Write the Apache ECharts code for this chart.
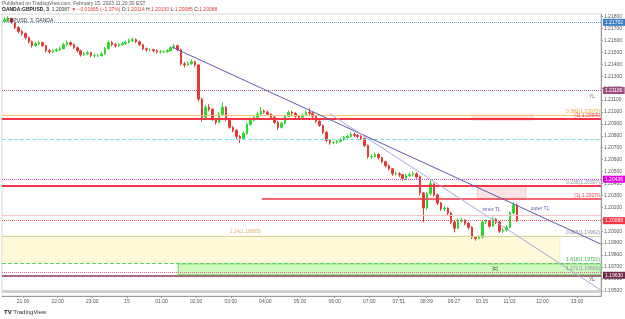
<!DOCTYPE html>
<html>
<head>
<meta charset="utf-8">
<script src="https://cdn.jsdelivr.net/npm/echarts@6/dist/echarts.min.js"></script>
<style>
html, body { margin: 0; padding: 0; background: #fff; }
#chart { width: 625px; height: 319px; }
</style>
</head>
<body>
<div id="chart"></div>
<script>
// GBPUSD candles, one every 6 minutes, time counted in minutes from 20:00 (Feb 14)
var startMinute = 28;
var stepMinutes = 6;

var opens = [1.21760,1.21776,1.21785,1.21751,1.21708,1.21675,1.21658,1.21624,1.21590,1.21556,
  1.21573,1.21582,1.21556,1.21514,1.21505,1.21514,1.21522,1.21531,1.21565,1.21582,
  1.21565,1.21539,1.21514,1.21480,1.21488,1.21497,1.21472,1.21472,1.21472,1.21488,
  1.21531,1.21582,1.21565,1.21556,1.21565,1.21573,1.21582,1.21598,1.21607,1.21590,
  1.21565,1.21531,1.21522,1.21522,1.21514,1.21505,1.21505,1.21505,1.21514,1.21539,
  1.21556,1.21522,1.21404,1.21395,1.21404,1.21421,1.21395,1.21108,1.20955,1.21040,
  1.21023,1.20939,1.20913,1.20981,1.21040,1.20939,1.20871,1.20846,1.20795,1.20778,
  1.20820,1.20896,1.20930,1.20955,1.20981,1.21006,1.20998,1.20981,1.20955,1.20913,
  1.20871,1.20905,1.20964,1.20998,1.20989,1.20964,1.20955,1.20972,1.20998,1.20989,
  1.20964,1.20922,1.20888,1.20829,1.20761,1.20744,1.20744,1.20752,1.20769,1.20786,
  1.20795,1.20812,1.20803,1.20795,1.20778,1.20719,1.20626,1.20626,1.20643,1.20617,
  1.20583,1.20549,1.20524,1.20482,1.20482,1.20473,1.20439,1.20465,1.20473,1.20482,
  1.20456,1.20321,1.20194,1.20313,1.20397,1.20304,1.20236,1.20186,1.20194,1.20152,
  1.20076,1.20025,1.20084,1.20093,1.20067,1.20033,1.19949,1.19940,1.19949,1.20076,
  1.20084,1.20042,1.20101,1.20076,1.20000,1.20008,1.20033,1.20152,1.20220];

var closes = [1.21776,1.21785,1.21751,1.21708,1.21675,1.21658,1.21624,1.21590,1.21556,1.21573,
  1.21582,1.21556,1.21514,1.21505,1.21514,1.21522,1.21531,1.21565,1.21582,1.21565,
  1.21539,1.21514,1.21480,1.21488,1.21497,1.21472,1.21472,1.21472,1.21488,1.21531,
  1.21582,1.21565,1.21556,1.21565,1.21573,1.21582,1.21598,1.21607,1.21590,1.21565,
  1.21531,1.21522,1.21522,1.21514,1.21505,1.21505,1.21505,1.21514,1.21539,1.21556,
  1.21522,1.21404,1.21395,1.21404,1.21421,1.21395,1.21108,1.20955,1.21040,1.21023,
  1.20939,1.20913,1.20981,1.21040,1.20939,1.20871,1.20846,1.20795,1.20778,1.20820,
  1.20896,1.20930,1.20955,1.20981,1.21006,1.20998,1.20981,1.20955,1.20913,1.20871,
  1.20905,1.20964,1.20998,1.20989,1.20964,1.20955,1.20972,1.20998,1.20989,1.20964,
  1.20922,1.20888,1.20829,1.20761,1.20744,1.20744,1.20752,1.20769,1.20786,1.20795,
  1.20812,1.20803,1.20795,1.20778,1.20719,1.20626,1.20626,1.20643,1.20617,1.20583,
  1.20549,1.20524,1.20482,1.20482,1.20473,1.20439,1.20465,1.20473,1.20482,1.20456,
  1.20321,1.20194,1.20313,1.20397,1.20304,1.20236,1.20186,1.20194,1.20152,1.20076,
  1.20025,1.20084,1.20093,1.20067,1.20033,1.19949,1.19940,1.19949,1.20076,1.20084,
  1.20042,1.20101,1.20076,1.20000,1.20008,1.20033,1.20152,1.20220,1.20088];

var lows = [1.21748,1.21762,1.21740,1.21695,1.21660,1.21640,1.21610,1.21575,1.21540,1.21545,
  1.21560,1.21548,1.21500,1.21490,1.21495,1.21502,1.21510,1.21525,1.21555,1.21552,
  1.21528,1.21500,1.21465,1.21470,1.21478,1.21460,1.21458,1.21462,1.21465,1.21480,
  1.21525,1.21550,1.21540,1.21545,1.21555,1.21565,1.21575,1.21588,1.21578,1.21552,
  1.21520,1.21505,1.21508,1.21500,1.21492,1.21490,1.21495,1.21496,1.21508,1.21530,
  1.21510,1.21390,1.21375,1.21385,1.21395,1.21380,1.21090,1.20920,1.20945,1.21005,
  1.20925,1.20895,1.20905,1.20975,1.20925,1.20860,1.20830,1.20770,1.20740,1.20765,
  1.20810,1.20885,1.20920,1.20945,1.20970,1.20985,1.20965,1.20940,1.20900,1.20850,
  1.20860,1.20895,1.20955,1.20975,1.20950,1.20940,1.20945,1.20965,1.20975,1.20950,
  1.20910,1.20875,1.20815,1.20745,1.20725,1.20730,1.20735,1.20745,1.20760,1.20775,
  1.20785,1.20790,1.20780,1.20765,1.20705,1.20610,1.20605,1.20615,1.20600,1.20570,
  1.20535,1.20510,1.20465,1.20465,1.20455,1.20425,1.20430,1.20455,1.20460,1.20440,
  1.20300,1.20076,1.20180,1.20300,1.20290,1.20220,1.20170,1.20170,1.20135,1.20060,
  1.19990,1.20015,1.20070,1.20050,1.20015,1.19935,1.19920,1.19930,1.19940,1.20060,
  1.20030,1.20035,1.20060,1.19985,1.19985,1.19998,1.20025,1.20140,1.20080];

var highs = [1.21795,1.21802,1.21790,1.21760,1.21720,1.21690,1.21668,1.21632,1.21600,1.21590,
  1.21598,1.21590,1.21565,1.21530,1.21528,1.21535,1.21548,1.21580,1.21600,1.21592,
  1.21575,1.21548,1.21522,1.21505,1.21512,1.21505,1.21490,1.21488,1.21500,1.21545,
  1.21598,1.21595,1.21578,1.21580,1.21590,1.21598,1.21615,1.21625,1.21618,1.21598,
  1.21572,1.21540,1.21535,1.21532,1.21525,1.21520,1.21518,1.21528,1.21552,1.21570,
  1.21565,1.21530,1.21420,1.21425,1.21440,1.21430,1.21400,1.21120,1.21060,1.21065,
  1.21030,1.20950,1.21000,1.21080,1.21050,1.20950,1.20880,1.20855,1.20805,1.20835,
  1.20910,1.20945,1.20970,1.21000,1.21040,1.21020,1.21010,1.20990,1.20965,1.20925,
  1.20920,1.20980,1.21012,1.21010,1.20998,1.20975,1.20985,1.21012,1.21030,1.21000,
  1.20975,1.20930,1.20895,1.20840,1.20770,1.20760,1.20765,1.20785,1.20800,1.20810,
  1.20830,1.20825,1.20815,1.20805,1.20785,1.20725,1.20645,1.20660,1.20655,1.20625,
  1.20590,1.20560,1.20530,1.20500,1.20495,1.20480,1.20480,1.20490,1.20500,1.20495,
  1.20465,1.20330,1.20330,1.20430,1.20405,1.20315,1.20245,1.20210,1.20200,1.20160,
  1.20085,1.20110,1.20110,1.20100,1.20075,1.20040,1.19960,1.19965,1.20090,1.20100,
  1.20092,1.20115,1.20110,1.20085,1.20025,1.20050,1.20165,1.20245,1.20230];

// axis ticks
var timeTicks = [60, 120, 180, 240, 300, 360, 420, 480, 540, 600, 660, 711, 759, 807, 855, 903, 960, 1020];
var priceTicks = [1.195, 1.196, 1.197, 1.198, 1.199, 1.200, 1.201, 1.202, 1.203, 1.204, 1.205, 1.206,
  1.207, 1.208, 1.209, 1.210, 1.211, 1.212, 1.213, 1.214, 1.215, 1.216, 1.217, 1.218];

// drawn levels
var blueLevel = 1.21752, yesterdayLow = 1.21180, fib382 = 1.20970, redLevel1 = 1.20941;
var cyanLevel = 1.20773, pinkLevel = 1.20436, redLevel2 = 1.20379, redLevel3 = 1.20270;
var lightRed = 1.20136, lastPrice = 1.20088, fib886 = 1.19959, fib1618 = 1.19733;
var dottedLow = 1.19658, lowLevel = 1.19630, greyLevel = 1.19500;
var outerTL = [[318, 1.21545], [1061, 1.19892]];
var innerTL = [[592, 1.20983], [1061, 1.19506]];

var xMin = 23.6, xMax = 1061.4;

var candles = [];
for (var i = 0; i < closes.length; i++) {
  candles.push([startMinute + stepMinutes * i, opens[i], closes[i], lows[i], highs[i]]);
}

function fmtTime(m) {
  var h = (20 + Math.floor(m / 60)) % 24, mm = m % 60;
  if (h === 0 && mm === 0) return '15';
  return (h < 10 ? '0' : '') + h + ':' + (mm < 10 ? '0' : '') + mm;
}

var FS = 5;
function line(v, color, width, type, from) {
  return [{ coord: [from || xMin, v], lineStyle: { color: color, width: width, type: type }, label: { show: false } },
          { coord: [xMax, v] }];
}
function boxed(v, color, width, type, bg) {
  var d = line(v, color, width, type);
  d[0].label = { show: true, position: 'end', formatter: v.toFixed(5), backgroundColor: bg, color: '#fff',
    fontSize: FS, padding: [1, 2], distance: 2 };
  return d;
}
function tagged(v, color, width, type, text, textColor, from) {
  var d = line(v, color, width, type, from);
  d[0].label = { show: true, position: 'insideEndTop', formatter: text, color: textColor, fontSize: FS, distance: 1 };
  return d;
}
function note(x, y, text, color) {
  return { coord: [x, y], symbol: 'circle', symbolSize: 0,
    label: { show: true, position: 'inside', formatter: text, color: color, fontSize: FS } };
}

var chart = echarts.init(document.getElementById('chart'));
chart.setOption({
  animation: false,
  backgroundColor: '#fff',
  textStyle: { fontFamily: 'Liberation Sans, Arial, sans-serif' },
  grid: { left: 2, right: 24, top: 14, bottom: 23, show: true, borderColor: '#d6d6d6', borderWidth: 1 },
  xAxis: {
    type: 'value', min: xMin, max: xMax,
    axisLine: { show: true, lineStyle: { color: '#9a9a9a' } },
    axisTick: { show: true, customValues: timeTicks, length: 2, lineStyle: { color: '#9a9a9a' } },
    axisLabel: { customValues: timeTicks, formatter: fmtTime, fontSize: FS, color: '#555', margin: 3 },
    splitLine: { show: false }
  },
  yAxis: {
    type: 'value', position: 'right', min: 1.19456, max: 1.21822,
    axisLine: { show: true, lineStyle: { color: '#9a9a9a' } },
    axisTick: { show: true, customValues: priceTicks, length: 2, lineStyle: { color: '#9a9a9a' } },
    axisLabel: { customValues: priceTicks, formatter: function (v) { return v.toFixed(5); },
      fontSize: FS, color: '#555', margin: 3 },
    splitLine: { show: false }
  },
  graphic: [
    { type: 'text', left: 2, top: 1, style: { text: 'Published on TradingView.com, February 15, 2023 11:20:30 EST',
      fontSize: FS, fill: '#555', fontFamily: 'Liberation Sans' } },
    { type: 'text', left: 2, top: 7, style: {
      text: '{b|OANDA:GBPUSD, 3}  {n|1.20087} {r|▼ −0.01665 (−1.37%)} {n|O:}{r|1.20114} {n|H:}{r|1.20130} {n|L:}{r|1.20085} {n|C:}{r|1.20088}',
      fontSize: FS, fontFamily: 'Liberation Sans',
      rich: { b: { fontSize: FS, fill: '#222', fontWeight: 'bold' }, n: { fontSize: FS, fill: '#333' }, r: { fontSize: FS, fill: '#e53935' } } } },
    { type: 'text', left: 6, top: 18, z: 10, style: { text: 'GBPUSD, 3, OANDA', fontSize: FS, fill: '#333', fontFamily: 'Liberation Sans' } },
    { type: 'text', left: 4, top: 309, style: { text: '{l|TV} TradingView', fontSize: 6, fill: '#333',
      fontFamily: 'Liberation Sans', rich: { l: { fontSize: 6, fontWeight: 'bold', fill: '#111' } } } }
  ],
  series: [
    {
      type: 'line', data: [], z: 1, silent: true,
      markArea: {
        silent: true,
        data: [
          [{ coord: [xMin, fib886], itemStyle: { color: 'rgba(255,250,205,0.75)', borderColor: '#eee2a0', borderWidth: 0.5 } },
           { coord: [990, 1.19741] }],
          [{ coord: [329, 1.19725], itemStyle: { color: 'rgba(200,250,180,0.85)', borderColor: '#62dd58', borderWidth: 1 } },
           { coord: [xMax, 1.19633] }],
          [{ coord: [838, 1.20974], itemStyle: { color: 'rgba(242,54,69,0.15)', borderColor: '#f5a0a0', borderWidth: 0.5 } },
           { coord: [944, 1.20932] }],
          [{ coord: [847, 1.20379], itemStyle: { color: 'rgba(242,54,69,0.15)', borderColor: '#f5a0a0', borderWidth: 0.5 } },
           { coord: [931, 1.20270] }]
        ]
      },
      markLine: {
        silent: true, symbol: ['none', 'none'],
        data: [
          line(greyLevel, '#d0d0d0', 3, 'solid'),
          boxed(blueLevel, '#6aa6e6', 1, 'dotted', '#3d7cc9'),
          boxed(yesterdayLow, '#b0608f', 1, 'dotted', '#9c4a7f'),
          tagged(fib382, '#f7c27a', 1, 'solid', '0.382(1.20970)', '#f0a030'),
          tagged(redLevel1, '#f23645', 2, 'solid', '(1) 1.20940', '#f23645'),
          line(cyanLevel, '#7fdede', 1, 'dashed'),
          boxed(pinkLevel, '#e040fb', 1, 'dotted', '#e000e0'),
          tagged(redLevel2, '#f23645', 2, 'solid', '0.236(1.20397)', '#8a8fa8'),
          tagged(redLevel3, '#f23645', 1.5, 'solid', '(1) 1.20270', '#f23645', 474),
          line(lightRed, '#f8c6c6', 1, 'solid'),
          boxed(lastPrice, '#ef5350', 1, 'dotted', '#f23645'),
          tagged(fib886, '#d8d2a0', 1, 'solid', '0.886(1.19962)', '#8a8fa8'),
          tagged(fib1618, '#5ccf5c', 1, 'dashed', '1.618(1.19720)', '#3fae3f'),
          tagged(dottedLow, '#f06292', 1, 'dotted', '1.272(1.19690)', '#8a8fa8'),
          boxed(lowLevel, '#8e3b5c', 1.5, 'solid', '#6e2a48')
        ]
      }
    },
    {
      type: 'candlestick', z: 2, data: candles, barWidth: 2,
      encode: { x: 0, y: [1, 2, 3, 4] },
      itemStyle: { color: '#2bd92b', color0: '#e53935', borderColor: '#2bd92b', borderColor0: '#e53935', borderWidth: 1 }
    },
    {
      type: 'line', data: [], z: 3, silent: true,
      markLine: {
        silent: true, symbol: ['none', 'none'], label: { show: false },
        data: [
          [{ coord: outerTL[0], lineStyle: { color: '#5b5bb5', width: 1, type: 'solid' } }, { coord: outerTL[1] }],
          [{ coord: innerTL[0], lineStyle: { color: '#a8a8dc', width: 1, type: 'solid' } }, { coord: innerTL[1] }]
        ]
      },
      markPoint: {
        silent: true,
        data: [
          note(872, 1.20177, 'inner TL', '#5b5bb5'),
          note(956, 1.20186, 'outer TL', '#5b5bb5'),
          note(878, 1.19688, '[c]', '#333'),
          note(445, 1.19993, '1.14(1.19965)', '#e0b060'),
          note(1046, 1.21125, 'YL', '#9c4a7f'),
          note(1046, 1.19590, 'YL', '#6e2a48')
        ]
      }
    }
  ]
});
</script>
</body>
</html>
